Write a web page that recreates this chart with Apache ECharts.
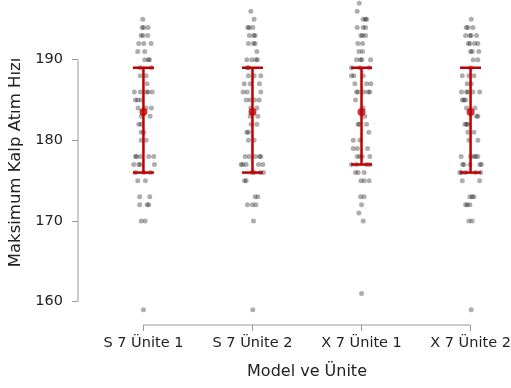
<!DOCTYPE html>
<html><head><meta charset="utf-8">
<script src="https://cdn.jsdelivr.net/npm/echarts@6/dist/echarts.min.js"></script>
<style>html,body{margin:0;padding:0;background:#fff}#c{width:511px;height:388px}</style>
</head><body><div id="c"></div>
<script>
const categories = ['S 7 Ünite 1', 'S 7 Ünite 2', 'X 7 Ünite 1', 'X 7 Ünite 2'];
const yTicks = [160, 170, 180, 190];
const xTitle = 'Model ve Ünite';
const yTitle = 'Maksimum Kalp Atım Hızı';

// individual observations: [horizontal jitter (category units), value]
const pointsS7U1 = [
  [-0.006,195],[-0.012,194],[0.003,194],[0.043,194],[-0.021,193],[-0.003,193],[0.040,193],
  [-0.043,192],[0.003,192],[0.070,192],[-0.052,191],[0.012,191],[0.012,190],[0.055,190],[0.046,190],
  [-0.028,189],[0.073,189],[-0.028,188],[0.024,188],[0.034,187],
  [-0.083,186],[-0.028,186],[0.028,186],[0.043,186],[0.080,186],
  [-0.073,185],[-0.052,185],[-0.021,185],[-0.049,184],[0.024,184],[0.073,184],
  [-0.018,183],[0.061,183],[-0.043,182],[-0.021,182],[-0.021,181],[0.003,181],[-0.021,180],[0.024,180],
  [-0.073,178],[-0.064,178],[-0.028,178],[0.049,178],[0.095,178],
  [-0.089,177],[-0.043,177],[-0.028,177],[0.101,177],[-0.073,176],[0.003,176],[0.064,176],
  [-0.052,175],[0.018,175],[-0.034,173],[0.058,173],[-0.034,172],[0.034,172],[0.049,172],
  [-0.021,170],[0.015,170],[0,159]
];
const pointsS7U2 = [
  [-0.015,196],[0.015,195],[-0.043,194],[-0.031,194],[0.003,194],[-0.028,193],[0.012,193],[0.024,193],
  [-0.037,192],[0.009,192],[0.024,192],[0.040,191],[-0.052,190],[-0.006,190],[0.031,190],[0.046,190],
  [-0.049,189],[-0.034,189],[-0.037,188],[0.015,188],[0.076,188],[-0.076,187],[-0.021,187],[0.064,187],
  [-0.086,186],[-0.049,186],[0.076,186],[-0.058,185],[-0.021,185],[0.018,185],[0.061,185],
  [-0.015,184],[0.040,184],[-0.021,183],[0.049,183],[-0.012,182],[0.040,182],[-0.052,181],[-0.037,181],
  [-0.037,180],[0.015,180],[-0.067,178],[-0.028,178],[0.024,178],[0.064,178],[0.076,178],
  [-0.104,177],[-0.089,177],[-0.058,177],[0.055,177],[0.095,177],[-0.006,176],[0.018,176],[0.070,176],[0.101,176],
  [-0.073,175],[-0.058,175],[0.024,173],[0.049,173],[-0.046,172],[0,172],[0.031,172],[0.009,170],[0.003,159]
];
const pointsX7U1 = [
  [-0.021,197],[-0.040,196],[0.015,195],[0.037,195],[0.046,195],[-0.040,194],[0.015,194],[0.037,194],
  [-0.006,193],[0.009,193],[0.037,193],[-0.034,192],[0.009,192],[-0.024,191],[0.009,191],
  [-0.046,190],[-0.009,190],[0.003,190],[0.083,190],[-0.092,189],[-0.015,189],[0.070,189],
  [-0.092,188],[-0.070,188],[0.015,188],[-0.061,187],[0.046,187],[0.086,187],
  [-0.046,186],[-0.031,186],[0.021,186],[0.061,186],[0.076,186],[-0.055,185],[0.015,184],[0.031,183],
  [-0.031,182],[-0.021,182],[0.046,182],[0.067,181],[-0.076,180],[-0.015,180],[-0.076,179],[-0.037,179],[0.055,179],
  [-0.040,178],[-0.015,178],[0.006,178],[0.076,178],[-0.092,177],[-0.046,177],[0.046,177],[0.076,177],
  [-0.055,176],[-0.031,176],[0.024,176],[-0.006,175],[0.024,175],[0.070,175],[-0.009,173],[0.024,173],
  [0,172],[-0.024,171],[0.015,170],[0,161]
];
const pointsX7U2 = [
  [0.006,195],[-0.040,194],[-0.024,194],[0.021,194],[-0.046,193],[-0.006,193],[0.006,193],[0.055,193],
  [-0.021,192],[-0.006,192],[0.037,192],[0.067,192],[0,191],[0.015,191],[0.076,191],[0.024,190],[0.067,190],
  [0,189],[-0.076,188],[-0.015,188],[0.031,188],[-0.031,187],[0.006,187],
  [-0.083,186],[-0.037,186],[-0.024,186],[0.021,186],[0.083,186],[-0.076,185],[-0.061,185],[-0.046,185],
  [-0.037,184],[0.040,184],[0.055,183],[0.067,183],[-0.052,182],[-0.037,182],[-0.024,182],[-0.024,181],[0.031,181],
  [-0.015,180],[0.067,180],[-0.086,178],[0,178],[0.031,178],[0.046,178],[0.067,178],
  [-0.073,177],[-0.061,177],[-0.006,177],[0.086,177],[0.098,177],[-0.098,176],[-0.083,176],[-0.046,176],[0.046,176],[0.092,176],
  [-0.076,175],[0.083,175],[-0.006,173],[0.015,173],[0.031,173],[-0.046,172],[-0.031,172],[-0.006,172],
  [-0.015,170],[0.015,170],[0.006,159]
];
const groups = [pointsS7U1, pointsS7U2, pointsX7U1, pointsX7U2];

// summary per category
const centerValues = [183.5, 183.5, 183.5, 183.5];
const lowerValues = [176, 176, 177, 176];
const upperValues = [189, 189, 189, 189];

const RED = '#c00000';
const AXIS = '#9a9a9a';
const FONT = 'DejaVu Sans';
const yMin = 157.1, yMax = 197.4, xMin = -0.6, xMax = 3.6;

const chart = echarts.init(document.getElementById('c'), null, {renderer: 'canvas'});

const series = [];
// trimmed axis lines
series.push({type: 'line', data: [[xMin, yTicks[0]], [xMin, yTicks[yTicks.length - 1]]], symbol: 'none', clip: false, silent: true,
  lineStyle: {color: AXIS, width: 1}, z: 1});
series.push({type: 'line', data: [[0, yMin], [categories.length - 1, yMin]], symbol: 'none', clip: false, silent: true,
  lineStyle: {color: AXIS, width: 1}, z: 1});

groups.forEach((g, i) => {
  series.push({
    type: 'scatter', symbolSize: 5, silent: true,
    itemStyle: {color: 'rgba(0,0,0,0.4)'},
    data: g.map(p => [i + p[0], p[1]]), z: 2
  });
});

series.push({
  type: 'custom', z: 5, silent: true,
  data: categories.map((c, i) => [i, lowerValues[i], upperValues[i]]),
  encode: {x: 0, y: [1, 2]},
  renderItem(params, api) {
    const x = api.value(0), lo = api.value(1), hi = api.value(2);
    const t = api.coord([x, hi]), b = api.coord([x, lo]);
    const hw = 10.5;
    const style = {stroke: RED, lineWidth: 2.5, fill: null};
    return {type: 'group', children: [
      {type: 'line', shape: {x1: t[0], y1: t[1], x2: b[0], y2: b[1]}, style},
      {type: 'line', shape: {x1: t[0] - hw, y1: t[1], x2: t[0] + hw, y2: t[1]}, style},
      {type: 'line', shape: {x1: b[0] - hw, y1: b[1], x2: b[0] + hw, y2: b[1]}, style}
    ]};
  }
});
series.push({
  type: 'scatter', symbolSize: 8, silent: true, z: 6,
  itemStyle: {color: RED},
  data: centerValues.map((v, i) => [i, v])
});

chart.setOption({
  animation: false,
  backgroundColor: '#fff',
  grid: {left: 78, top: 0, width: 458, height: 325, containLabel: false, outerBoundsMode: 'none'},
  xAxis: {
    type: 'value', min: xMin, max: xMax,
    axisLine: {show: false, onZero: false},
    splitLine: {show: false},
    axisTick: {show: true, customValues: [0, 1, 2, 3], length: 6, lineStyle: {color: AXIS}},
    axisLabel: {customValues: [0, 1, 2, 3], formatter: v => categories[Math.round(v)] || '', fontSize: 14.5, color: '#222', fontFamily: FONT, margin: 11},
    name: xTitle, nameLocation: 'middle', nameGap: 39,
    nameTextStyle: {fontSize: 16, color: '#222', fontFamily: FONT}
  },
  yAxis: {
    type: 'value', min: yMin, max: yMax,
    axisLine: {show: false, onZero: false},
    splitLine: {show: false},
    axisTick: {show: true, customValues: yTicks, length: 6, lineStyle: {color: AXIS}},
    axisLabel: {customValues: yTicks, fontSize: 14.5, color: '#222', fontFamily: FONT, margin: 15},
    name: yTitle, nameLocation: 'middle', nameGap: 53, nameRotate: 90,
    nameTextStyle: {fontSize: 16.5, color: '#222', fontFamily: FONT}
  },
  series
});
</script>
</body></html>
